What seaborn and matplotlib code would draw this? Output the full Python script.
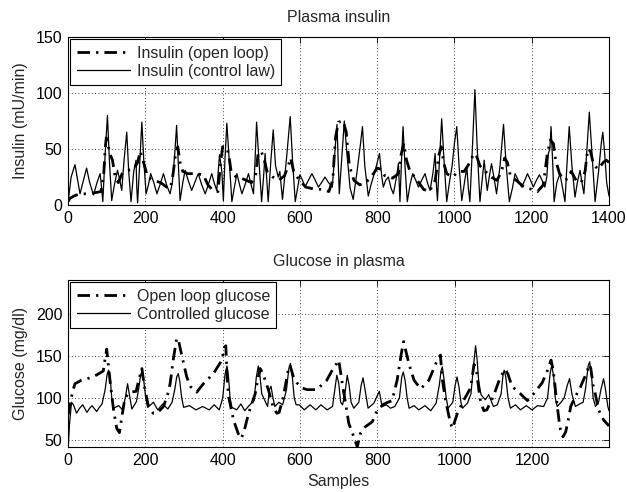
import matplotlib
matplotlib.use("Agg")
import matplotlib.pyplot as plt
import pandas as pd
import seaborn as sns

# Samples / values, one pair of lists per curve.
ins_ol_s = [0, 5, 15, 30, 50, 70, 85, 92, 96, 99, 103, 108, 115, 122, 130, 140, 155, 170, 180, 187,
            192, 198, 206, 220, 240, 255, 265, 272, 278, 284, 290, 297, 310, 330, 350, 362, 375, 388,
            394, 400, 410, 416, 422, 435, 455, 475, 486, 492, 500, 508, 515, 530, 545, 560, 570, 576,
            584, 595, 615, 640, 660, 675, 685, 692, 700, 712, 720, 728, 740, 755, 770, 785, 800, 810,
            820, 840, 855, 862, 869, 876, 885, 900, 920, 935, 950, 960, 966, 972, 980, 995, 1010, 1025,
            1040, 1050, 1058, 1066, 1080, 1095, 1110, 1122, 1130, 1137, 1145, 1160, 1180, 1200, 1215,
            1230, 1240, 1248, 1256, 1262, 1272, 1285, 1295, 1302, 1315, 1328, 1338, 1345, 1352, 1360,
            1372, 1385, 1393, 1400]
ins_ol_v = [3, 6, 8, 10, 10, 11, 12, 25, 50, 60, 55, 46, 40, 25, 20, 28, 31, 32, 38, 48,
            42, 35, 25, 22, 20, 16, 15, 28, 45, 52, 38, 30, 28, 28, 27, 18, 13, 12,
            35, 52, 52, 45, 30, 25, 23, 20, 28, 46, 48, 40, 30, 25, 22, 26, 35, 42,
            30, 24, 16, 14, 14, 12, 22, 60, 74, 75, 65, 35, 22, 18, 20, 25, 33, 32,
            26, 24, 28, 45, 55, 40, 30, 24, 14, 12, 22, 45, 52, 38, 28, 25, 30, 30,
            38, 46, 43, 35, 30, 25, 22, 30, 42, 38, 26, 22, 16, 14, 12,
            18, 45, 58, 55, 40, 28, 22, 24, 30, 22, 20, 30, 50, 48, 36,
            32, 38, 40, 38]

ins_ctrl_s = [0, 8, 18, 25, 31, 40, 48, 56, 66, 75, 83, 87, 90, 96, 102, 107, 113, 120, 128, 134,
              139, 145, 152, 157, 163, 170, 176, 178, 180, 186, 191, 196, 202, 208, 214, 222, 230,
              238, 247, 255, 264, 270, 276, 281, 285, 290, 297, 303, 311, 320, 328, 337, 346, 355,
              363, 372, 378, 385, 392, 398, 402, 406, 411, 417, 424, 430, 437, 444, 450, 458, 467,
              474, 480, 484, 488, 494, 501, 506, 510, 514, 518, 525, 531, 537, 544, 548, 555, 565,
              575, 581, 588, 594, 600, 607, 613, 622, 631, 640, 648, 656, 665, 674, 684, 690, 696,
              702, 708, 715, 722, 730, 738, 748, 757, 762, 768, 777, 784, 790, 798, 806, 812, 816,
              822, 829, 836, 842, 850, 855, 859, 863, 867, 872, 878, 885, 892, 900, 907, 915, 924,
              930, 937, 945, 950, 953, 956, 962, 967, 973, 980, 987, 994, 1000, 1006, 1012, 1019,
              1026, 1032, 1036, 1040, 1047, 1053, 1059, 1066, 1071, 1077, 1081, 1085, 1090, 1096,
              1102, 1109, 1118, 1127, 1134, 1142, 1150, 1157, 1165, 1174, 1182, 1189, 1197, 1204,
              1212, 1220, 1227, 1234, 1239, 1243, 1247, 1250, 1254, 1258, 1265, 1273, 1280, 1286,
              1291, 1297, 1304, 1312, 1318, 1325, 1330, 1335, 1342, 1349, 1356, 1364, 1373, 1380,
              1384, 1389, 1394, 1400]
ins_ctrl_v = [2, 25, 36, 22, 10, 22, 33, 20, 9, 20, 28, 15, 3, 45, 80, 40, 4, 18, 31, 22,
              13, 40, 65, 30, 3, 30, 40, 15, 2, 40, 74, 40, 10, 18, 28, 20, 10,
              18, 28, 18, 10, 20, 45, 71, 40, 4, 20, 31, 22, 13, 20, 28, 18, 10,
              18, 28, 20, 13, 45, 30, 4, 40, 73, 40, 3, 15, 28, 18, 10, 18, 28,
              18, 10, 40, 74, 40, 3, 25, 46, 25, 3, 40, 67, 35, 25, 30, 5, 40,
              79, 40, 3, 15, 27, 22, 16, 22, 28, 22, 16, 20, 25, 20, 16, 45, 72,
              10, 40, 75, 45, 15, 5, 30, 55, 70, 35, 8, 18, 25, 35, 46, 25, 16,
              22, 25, 15, 10, 25, 37, 3, 40, 70, 35, 3, 18, 28, 22, 16, 22, 28,
              20, 13, 30, 46, 20, 4, 45, 77, 40, 3, 20, 35, 55, 70, 35, 4,
              20, 34, 15, 3, 55, 103, 50, 3, 20, 40, 25, 13, 25, 37,
              25, 10, 35, 72, 35, 3, 15, 28, 22, 16, 22, 28, 22, 16,
              22, 27, 22, 16, 25, 46, 50, 70, 40, 3, 20, 28, 15, 3,
              35, 70, 35, 7, 20, 31, 20, 10, 45, 83, 45, 3, 30, 55,
              65, 45, 20, 8]

glu_ol_s = [0, 5, 12, 18, 34, 50, 65, 80, 91, 97, 100, 104, 110, 118, 126, 133, 140, 147, 160, 176,
            185, 191, 197, 208, 220, 230, 247, 258, 264, 272, 281, 286, 292, 298, 307, 316, 333, 350,
            376, 398, 404, 408, 412, 415, 428, 440, 448, 456, 467, 484, 492, 497, 505, 518, 530, 540,
            546, 557, 568, 574, 583, 592, 605, 618, 643, 669, 688, 695, 700, 705, 710, 718, 726, 739,
            748, 756, 769, 787, 800, 817, 838, 851, 862, 868, 874, 882, 895, 912, 933, 955, 963, 968,
            976, 989, 994, 1007, 1024, 1041, 1050, 1057, 1065, 1075, 1083, 1100, 1118, 1131, 1138,
            1148, 1170, 1188, 1204, 1226, 1242, 1249, 1254, 1258, 1264, 1272, 1280, 1287, 1294, 1300,
            1310, 1325, 1342, 1348, 1352, 1358, 1364, 1372, 1385, 1399]
glu_ol_v = [80, 92, 108, 117, 121, 123, 125, 129, 132, 150, 158, 140, 115, 85, 64, 59, 80, 100, 107, 108,
            125, 135, 115, 90, 82, 82, 90, 105, 117, 145, 171, 168, 155, 143, 125, 114, 107, 117,
            129, 145, 160, 162, 120, 102, 74, 58, 52, 62, 82, 105, 125, 135, 128, 110, 90, 82,
            83, 102, 130, 139, 125, 118, 112, 110, 110, 121, 137, 141, 145, 130, 115, 93, 70, 54,
            42, 58, 66, 72, 86, 93, 97, 121, 153, 167, 155, 140, 121, 111, 121, 145, 151, 122,
            98, 70, 64, 82, 98, 112, 140, 130, 100, 85, 86, 102, 125, 134, 128,
            114, 105, 97, 105, 118, 135, 145, 135, 120, 95, 65, 54, 60, 75, 90,
            100, 113, 131, 140, 135, 115, 104, 86, 74, 67]

glu_ctrl_s = [0, 4, 9, 14, 22, 30, 38, 49, 56, 62, 74, 81, 88, 96, 101, 105, 109, 113, 118, 131,
              141, 148, 154, 159, 165, 172, 177, 183, 188, 192, 196, 201, 206, 221, 232, 245, 258,
              269, 276, 281, 285, 289, 294, 299, 314, 331, 348, 365, 378, 391, 400, 406, 411, 415,
              419, 424, 436, 447, 457, 468, 481, 487, 492, 496, 501, 506, 516, 521, 525, 530, 535,
              545, 555, 565, 571, 575, 580, 585, 590, 598, 611, 626, 641, 654, 670, 684, 690, 695,
              700, 705, 710, 716, 722, 727, 732, 739, 752, 758, 763, 768, 776, 791, 800, 805, 812,
              823, 834, 845, 857, 863, 867, 872, 877, 882, 895, 907, 923, 938, 952, 960, 965, 968,
              973, 978, 983, 995, 1001, 1006, 1011, 1016, 1020, 1033, 1042, 1049, 1054, 1058, 1062,
              1068, 1079, 1088, 1100, 1110, 1120, 1125, 1128, 1132, 1138, 1144, 1157, 1170, 1185,
              1200, 1214, 1230, 1240, 1247, 1251, 1256, 1260, 1265, 1275, 1283, 1291, 1297, 1303,
              1312, 1323, 1332, 1338, 1345, 1349, 1354, 1358, 1364, 1372, 1378, 1385, 1390, 1396, 1399]
glu_ctrl_v = [38, 70, 95, 92, 82, 88, 92, 83, 88, 91, 84, 89, 93, 110, 128, 133, 125, 100, 88, 91,
              86, 100, 117, 103, 87, 92, 96, 112, 128, 132, 120, 100, 89, 95, 86, 93, 87,
              95, 110, 125, 129, 120, 100, 89, 91, 86, 90, 86, 92, 86, 100, 128, 138, 125,
              100, 89, 86, 93, 85, 91, 97, 125, 138, 128, 105, 100, 90, 110, 114, 100, 90,
              95, 92, 110, 135, 141, 125, 100, 92, 92, 86, 92, 86, 92, 86, 90, 110, 127,
              118, 95, 92, 105, 127, 115, 95, 88, 95, 115, 124, 110, 88, 94, 103, 108, 90,
              92, 88, 90, 100, 125, 131, 120, 100, 88, 91, 86, 91, 85, 94, 115, 133, 137,
              120, 100, 88, 95, 115, 125, 113, 95, 88, 94, 105, 140, 162, 145, 120,
              104, 98, 104, 90, 92, 105, 128, 133, 125, 100, 88, 92, 86, 91,
              86, 91, 90, 100, 130, 139, 125, 100, 90, 95, 100, 115, 123, 105,
              90, 93, 95, 110, 138, 143, 125, 100, 90, 95, 110, 123, 110, 90, 85]

OL_STYLE = (0, (4.5, 2.2, 0.8, 2.2))
FS = 11.5

sns.set_style("white")
plt.rcParams["font.family"] = ["Liberation Sans", "DejaVu Sans"]
plt.rcParams["font.size"] = FS


def style_axes(ax):
    ax.grid(True, color="black", linestyle=(0, (1, 3)), linewidth=0.6)
    ax.tick_params(direction="in", top=True, right=True, length=4, width=0.6,
                   labelsize=FS, pad=4, colors="black")
    for sp in ax.spines.values():
        sp.set_visible(True)
        sp.set_color("black")
        sp.set_linewidth(0.8)


def legend(ax):
    leg = ax.legend(loc="upper left", frameon=True, fancybox=False, edgecolor="black",
                    framealpha=1, fontsize=FS, handlelength=3.3, handletextpad=0.45,
                    borderpad=0.4, labelspacing=0.2, borderaxespad=0.15)
    leg.get_frame().set_linewidth(0.8)


fig = plt.figure(figsize=(6.27, 4.92), dpi=100)
ax1 = fig.add_axes([0.1085, 0.5833, 0.8628, 0.3415])
ax2 = fig.add_axes([0.1085, 0.0915, 0.8628, 0.3394])

ins_ol = pd.DataFrame({"s": ins_ol_s, "v": ins_ol_v})
ins_ctrl = pd.DataFrame({"s": ins_ctrl_s, "v": ins_ctrl_v})
sns.lineplot(data=ins_ol, x="s", y="v", ax=ax1, color="black", linewidth=2,
             linestyle=OL_STYLE, estimator=None, label="Insulin (open loop)")
sns.lineplot(data=ins_ctrl, x="s", y="v", ax=ax1, color="black", linewidth=0.9,
             estimator=None, label="Insulin (control law)")
ax1.set_xlim(0, 1400)
ax1.set_ylim(0, 150)
ax1.set_xticks(range(0, 1401, 200))
ax1.set_yticks([0, 50, 100, 150])
ax1.set_title("Plasma insulin", fontsize=FS, pad=10.5)
ax1.set_ylabel("Insulin (mU/min)", fontsize=FS, labelpad=6)
ax1.set_xlabel("")
style_axes(ax1)
legend(ax1)

glu_ol = pd.DataFrame({"s": glu_ol_s, "v": glu_ol_v})
glu_ctrl = pd.DataFrame({"s": glu_ctrl_s, "v": glu_ctrl_v})
sns.lineplot(data=glu_ol, x="s", y="v", ax=ax2, color="black", linewidth=2,
             linestyle=OL_STYLE, estimator=None, label="Open loop glucose")
sns.lineplot(data=glu_ctrl, x="s", y="v", ax=ax2, color="black", linewidth=0.9,
             estimator=None, label="Controlled glucose")
ax2.set_xlim(0, 1399)
ax2.set_ylim(42, 240)
ax2.set_xticks(range(0, 1201, 200))
ax2.set_yticks([50, 100, 150, 200])
ax2.set_title("Glucose in plasma", fontsize=FS, pad=10)
ax2.set_ylabel("Glucose (mg/dl)", fontsize=FS, labelpad=6)
ax2.set_xlabel("Samples", fontsize=FS, labelpad=5)
style_axes(ax2)
legend(ax2)

fig.savefig("out.png", dpi=100)
